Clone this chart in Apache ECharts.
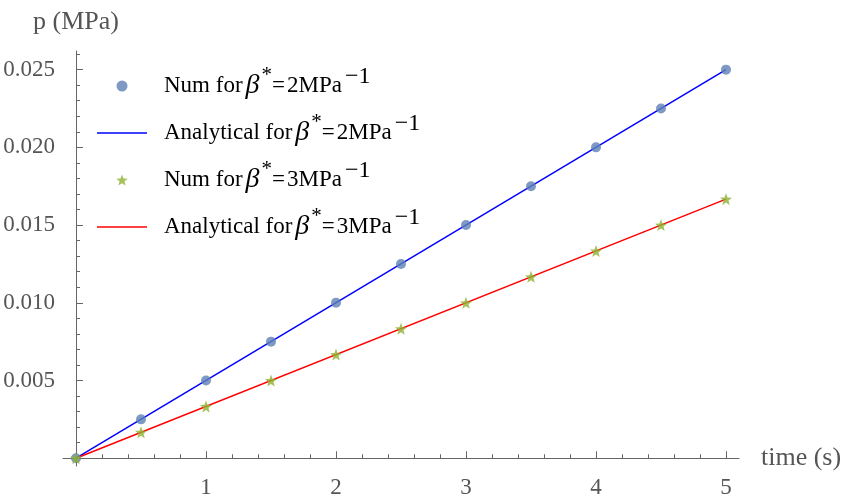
<!DOCTYPE html>
<html><head><meta charset="utf-8">
<script src="https://cdn.jsdelivr.net/npm/echarts@6/dist/echarts.min.js"></script>
<style>html,body{margin:0;padding:0;background:#fff}#c{width:846px;height:497px}</style>
</head><body><div id="c"></div><script>
// ---- data ----
const times = [0, 0.5, 1, 1.5, 2, 2.5, 3, 3.5, 4, 4.5, 5];
const numBeta2 = [0, 0.0025, 0.005, 0.0075, 0.01, 0.0125, 0.015, 0.0175, 0.02, 0.0225, 0.025];
const numBeta3 = [0, 0.00167, 0.00333, 0.005, 0.00667, 0.00833, 0.01, 0.01167, 0.01333, 0.015, 0.01667];
const lineTimes = [0, 5];
const anaBeta2 = [0, 0.025];
const anaBeta3 = [0, 0.01667];
const xLabels = [1, 2, 3, 4, 5];
const xMinorTicks = [0.2, 0.4, 0.6, 0.8, 1.2, 1.4, 1.6, 1.8, 2.2, 2.4, 2.6, 2.8, 3.2, 3.4, 3.6, 3.8, 4.2, 4.4, 4.6, 4.8];
const yLabels = [0.005, 0.010, 0.015, 0.020, 0.025];
const yMinorTicks = [0.001, 0.002, 0.003, 0.004, 0.006, 0.007, 0.008, 0.009, 0.011, 0.012, 0.013, 0.014, 0.016, 0.017, 0.018, 0.019, 0.021, 0.022, 0.023, 0.024, 0.026];
const legendTexts = {
  n2: '{t|Num for}{b|β}{s|*}{e|=}{t|2MPa}{m|−1}',
  a2: '{t|Analytical for}{b|β}{s|*}{e|=}{t|2MPa}{m|−1}',
  n3: '{t|Num for}{b|β}{s|*}{e|=}{t|3MPa}{m|−1}',
  a3: '{t|Analytical for}{b|β}{s|*}{e|=}{t|3MPa}{m|−1}'
};

const FONT = 'Liberation Serif';
const AX = '#666666';
const TX = '#555555';
const starPath = 'path://M0,-1 L0.247,-0.34 L0.951,-0.309 L0.399,0.13 L0.588,0.809 L0,0.42 L-0.588,0.809 L-0.399,0.13 L-0.951,-0.309 L-0.247,-0.34 Z';
const linePath = 'path://M0,0 L50,0 L50,1.6 L0,1.6 Z';

const pair = (xs, ys) => xs.map((x, i) => [x, ys[i]]);

const chart = echarts.init(document.getElementById('c'), null, {renderer: 'canvas'});
chart.setOption({
  animation: false,
  backgroundColor: '#fff',
  grid: {left: 63, right: 107, top: 51, bottom: 31, containLabel: false, outerBoundsMode: 'none'},
  legend: {
    orient: 'vertical', left: 92, top: 60, itemWidth: 50, itemHeight: 11, itemGap: 12,
    data: [
      {name: 'n2', icon: 'circle'},
      {name: 'a2', icon: linePath},
      {name: 'n3', icon: starPath},
      {name: 'a3', icon: linePath}
    ],
    formatter: n => legendTexts[n],
    textStyle: {
      padding: [0, 0, 0, 12],
      rich: {
        t: {fontFamily: FONT, fontSize: 23, color: '#000', lineHeight: 42, verticalAlign: 'middle'},
        e: {fontFamily: FONT, fontSize: 23, color: '#000', lineHeight: 42, verticalAlign: 'middle',
            padding: [0, 2, 0, 0]},
        b: {fontFamily: FONT, fontSize: 28, fontStyle: 'italic', color: '#000', lineHeight: 42,
            verticalAlign: 'middle', padding: [0, 2, 0, 3]},
        s: {fontFamily: FONT, fontSize: 21, color: '#000', verticalAlign: 'top'},
        m: {fontFamily: FONT, fontSize: 24, color: '#000', verticalAlign: 'top', padding: [0, 0, 0, 3]}
      }
    }
  },
  xAxis: [
    {
      type: 'value', min: -0.1, max: 5.1, position: 'bottom',
      axisLine: {onZero: true, lineStyle: {color: AX, width: 1}},
      axisTick: {show: true, inside: true, length: 7, customValues: xLabels, lineStyle: {color: AX}},
      axisLabel: {customValues: xLabels, margin: 10, fontFamily: FONT, fontSize: 23, color: TX},
      splitLine: {show: false},
      name: 'time (s)', nameLocation: 'end', nameGap: 22,
      nameTextStyle: {fontFamily: FONT, fontSize: 26, color: TX, align: 'left', verticalAlign: 'middle',
        padding: [10, 0, 0, 0]}
    },
    {
      type: 'value', min: -0.1, max: 5.1, position: 'bottom',
      axisLine: {show: false, onZero: true},
      axisTick: {show: true, inside: true, length: 4, customValues: xMinorTicks, lineStyle: {color: AX}},
      axisLabel: {show: false},
      splitLine: {show: false}
    }
  ],
  yAxis: [
    {
      type: 'value', min: -0.0005, max: 0.0262, position: 'left',
      axisLine: {onZero: true, lineStyle: {color: AX, width: 1}},
      axisTick: {show: true, inside: true, length: 7, customValues: yLabels, lineStyle: {color: AX}},
      axisLabel: {customValues: yLabels, margin: 8, fontFamily: FONT, fontSize: 23, color: TX,
        formatter: v => v.toFixed(3)},
      splitLine: {show: false},
      name: 'p (MPa)', nameLocation: 'end', nameGap: 16,
      nameTextStyle: {fontFamily: FONT, fontSize: 26, color: TX, align: 'center'}
    },
    {
      type: 'value', min: -0.0005, max: 0.0262, position: 'left',
      axisLine: {show: false, onZero: true},
      axisTick: {show: true, inside: true, length: 4, customValues: yMinorTicks, lineStyle: {color: AX}},
      axisLabel: {show: false},
      splitLine: {show: false}
    }
  ],
  series: [
    {name: 'n2', type: 'scatter', data: pair(times, numBeta2), symbol: 'circle', symbolSize: 10,
     itemStyle: {color: '#5E81B5'}, z: 4},
    {name: 'a2', type: 'line', data: pair(lineTimes, anaBeta2), symbol: 'none', showSymbol: false,
     lineStyle: {color: '#0000FF', width: 1.5}, itemStyle: {color: '#0000FF'}, z: 3},
    {name: 'n3', type: 'scatter', data: pair(times, numBeta3), symbol: starPath, symbolSize: 12,
     itemStyle: {color: '#8FB131'}, z: 5},
    {name: 'a3', type: 'line', data: pair(lineTimes, anaBeta3), symbol: 'none', showSymbol: false,
     lineStyle: {color: '#FF0000', width: 1.5}, itemStyle: {color: '#FF0000'}, z: 3}
  ]
});
</script></body></html>
